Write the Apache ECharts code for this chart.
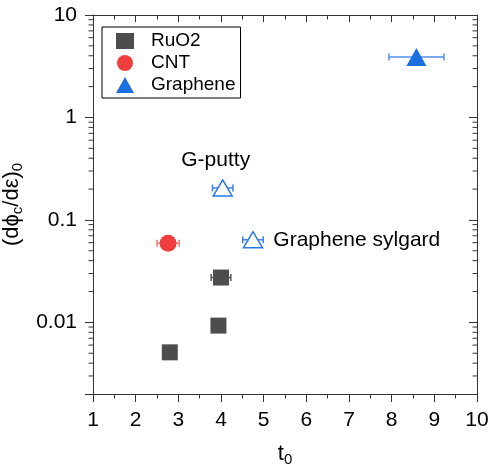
<!DOCTYPE html>
<html>
<head>
<meta charset="utf-8">
<script src="https://cdn.jsdelivr.net/npm/echarts@6/dist/echarts.min.js"></script>
<style>html,body{margin:0;padding:0;background:#fff}#c{width:489px;height:466px}</style>
</head>
<body>
<div id="c"></div>
<script>
// ---- data ----
var ruo2X = [2.8, 3.94, 4.0];
var ruo2Y = [0.0051, 0.0093, 0.0274];
var ruo2Xerr = [0, 0, 0.23];

var cntX = [2.76];
var cntY = [0.0593];
var cntXerr = [0.26];

var grapheneX = [8.58];
var grapheneY = [3.9];
var grapheneXerr = [0.645];

var openNames = ['G-putty', 'Graphene sylgard'];
var openX = [4.04, 4.75];
var openY = [0.205, 0.064];
var openXerr = [0.24, 0.24];

var xTicks = [1, 2, 3, 4, 5, 6, 7, 8, 9, 10];
var yDecades = [0.001, 0.01, 0.1, 1];
var yMin = 0.002, yMax = 10;

// ---- helpers ----
function pts(xs, ys) { return xs.map(function (x, i) { return [x, ys[i]]; }); }
function errPts(xs, ys, es) { return xs.map(function (x, i) { return [x, ys[i], es[i]]; }); }

var minorVals = [];
yDecades.forEach(function (d) {
  for (var k = 2; k <= 9; k++) {
    var v = +(d * k).toPrecision(3);
    if (v > yMin && v < yMax) minorVals.push(v);
  }
});

function errorBarSeries(data, color) {
  return {
    type: 'custom',
    silent: true,
    z: 2,
    data: data,
    renderItem: function (params, api) {
      var x = api.value(0), y = api.value(1), e = api.value(2);
      if (!e) return null;
      var l = api.coord([x - e, y]), r = api.coord([x + e, y]);
      var st = { stroke: color, lineWidth: 1.5 };
      return {
        type: 'group',
        children: [
          { type: 'line', shape: { x1: l[0], y1: l[1], x2: r[0], y2: r[1] }, style: st },
          { type: 'line', shape: { x1: l[0], y1: l[1] - 3.5, x2: l[0], y2: l[1] + 3.5 }, style: st },
          { type: 'line', shape: { x1: r[0], y1: r[1] - 3.5, x2: r[0], y2: r[1] + 3.5 }, style: st }
        ]
      };
    }
  };
}

function minorTickSeries(xPos, dir) {
  return {
    type: 'custom',
    silent: true,
    clip: false,
    z: 10,
    data: minorVals.map(function (v) { return [xPos, v]; }),
    renderItem: function (params, api) {
      var p = api.coord([api.value(0), api.value(1)]);
      return {
        type: 'line',
        shape: { x1: p[0], y1: p[1], x2: p[0] + dir * 4.5, y2: p[1] },
        style: { stroke: '#333', lineWidth: 1 }
      };
    }
  };
}

var font = 'Liberation Sans, Arial, sans-serif';
var axisCol = '#333';

var chart = echarts.init(document.getElementById('c'), null, { renderer: 'canvas' });
chart.setOption({
  animation: false,
  backgroundColor: '#fff',
  textStyle: { fontFamily: font },
  grid: { left: 93, right: 12, top: 15, bottom: 72, containLabel: false, outerBoundsMode: 'none' },
  legend: {
    left: 102, top: 27,
    orient: 'vertical',
    itemWidth: 18, itemHeight: 16,
    itemGap: 0,
    padding: [3, 5, 2, 14],
    borderColor: '#000', borderWidth: 1,
    textStyle: { fontSize: 19, color: '#000', fontFamily: font, lineHeight: 22, padding: [0, 0, 0, 12] },
    data: [
      { name: 'RuO2', icon: 'rect' },
      { name: 'CNT', icon: 'circle' },
      { name: 'Graphene', icon: 'triangle' }
    ]
  },
  xAxis: [{
    type: 'value', min: 1, max: 10, interval: 1,
    position: 'bottom',
    name: 't{s|0}', nameLocation: 'middle', nameGap: 46,
    nameTextStyle: { fontSize: 22, color: '#000', fontFamily: font,
      rich: { s: { fontSize: 15, verticalAlign: 'bottom', padding: [12, 0, 0, 0], color: '#000', fontFamily: font } } },
    axisLine: { show: true, lineStyle: { color: axisCol, width: 1 } },
    axisTick: { show: true, inside: false, length: 8, lineStyle: { color: axisCol } },
    minorTick: { show: true, splitNumber: 2, length: 4.5, lineStyle: { color: axisCol } },
    axisLabel: { fontSize: 21, color: '#000', margin: 16, fontFamily: font },
    splitLine: { show: false }
  }, {
    type: 'value', min: 1, max: 10, interval: 1,
    position: 'top',
    axisLine: { show: true, lineStyle: { color: axisCol, width: 1 } },
    axisTick: { show: true, inside: true, length: 7, lineStyle: { color: axisCol } },
    minorTick: { show: true, splitNumber: 2, length: 4.5, lineStyle: { color: axisCol } },
    axisLabel: { show: false },
    splitLine: { show: false }
  }],
  yAxis: [{
    type: 'log', logBase: 10, min: yMin, max: yMax,
    position: 'left',
    name: '(dϕ{s|c}/dε){s|0}', nameLocation: 'middle', nameGap: 62, nameRotate: 90,
    nameTextStyle: { fontSize: 22, color: '#000', fontFamily: font,
      rich: { s: { fontSize: 15, verticalAlign: 'bottom', padding: [12, 0, 0, 0], color: '#000', fontFamily: font } } },
    axisLine: { show: true, lineStyle: { color: axisCol, width: 1 } },
    axisTick: { show: true, inside: false, length: 8, lineStyle: { color: axisCol } },
    axisLabel: {
      fontSize: 21, color: '#000', margin: 16, fontFamily: font,
      formatter: function (v) {
        var l = Math.log10(v);
        if (Math.abs(l - Math.round(l)) > 1e-6) return '';
        var r = Math.round(l);
        return r >= 0 ? String(Math.pow(10, r)) : (Math.pow(10, r)).toFixed(-r);
      }
    },
    splitLine: { show: false }
  }, {
    type: 'log', logBase: 10, min: yMin, max: yMax,
    position: 'right',
    axisLine: { show: true, lineStyle: { color: axisCol, width: 1 } },
    axisTick: { show: true, inside: true, length: 8, lineStyle: { color: axisCol } },
    axisLabel: { show: false },
    splitLine: { show: false }
  }],
  series: [
    errorBarSeries(errPts(ruo2X, ruo2Y, ruo2Xerr), '#555555'),
    errorBarSeries(errPts(cntX, cntY, cntXerr), '#f07878'),
    errorBarSeries(errPts(grapheneX, grapheneY, grapheneXerr), '#4f8fe8'),
    errorBarSeries(errPts(openX, openY, openXerr), '#3a80e8'),
    {
      name: 'RuO2', type: 'scatter', symbol: 'rect', symbolSize: 16, z: 3,
      itemStyle: { color: '#4d4d4d', opacity: 1 },
      data: pts(ruo2X, ruo2Y)
    },
    {
      name: 'CNT', type: 'scatter', symbol: 'circle', symbolSize: 17, z: 3,
      itemStyle: { color: '#f03e3e', opacity: 1 },
      data: pts(cntX, cntY)
    },
    {
      name: 'Graphene', type: 'scatter', symbol: 'triangle', symbolSize: [20, 18], z: 3,
      itemStyle: { color: '#1c6fe0', opacity: 1 },
      data: pts(grapheneX, grapheneY)
    },
    {
      name: 'open', type: 'scatter', symbol: 'triangle', symbolSize: [19, 16], z: 3,
      itemStyle: { color: '#fff', borderColor: '#2a78e4', borderWidth: 1.5, opacity: 1 },
      data: openX.map(function (x, i) {
        return {
          name: openNames[i], value: [x, openY[i]],
          label: i === 0
            ? { show: true, position: 'inside', offset: [-7, -28], formatter: '{b}', fontSize: 21, color: '#000', fontFamily: font }
            : { show: true, position: 'right', distance: 10, formatter: '{b}', fontSize: 21, color: '#000', fontFamily: font }
        };
      })
    },
    minorTickSeries(1, -1),
    minorTickSeries(10, -1)
  ]
});
</script>
</body>
</html>
